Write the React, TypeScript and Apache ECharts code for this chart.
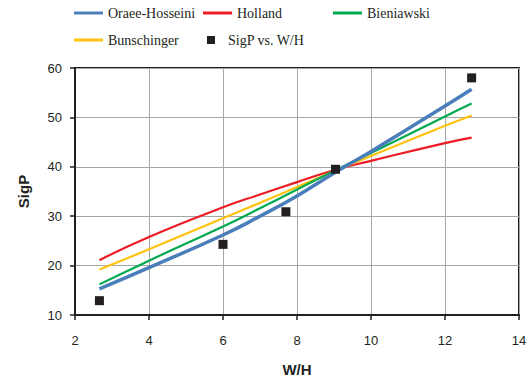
import React, { useEffect, useRef } from "react";
import * as echarts from "echarts";

const lineX = [2.66, 4, 6, 7, 8, 9.04, 10, 12, 12.72];
const oraeeHosseini = [15.3, 19.6, 26.2, 30.0, 34.1, 38.9, 43.1, 52.3, 55.7];
const holland = [21.1, 25.8, 31.8, 34.4, 36.9, 39.4, 41.2, 44.8, 45.9];
const bieniawski = [16.2, 21.0, 27.9, 31.6, 35.4, 39.3, 42.8, 50.2, 52.8];
const bunschinger = [19.2, 23.3, 29.6, 32.7, 35.9, 39.2, 42.2, 48.3, 50.4];
const pointsX = [2.66, 6.0, 7.7, 9.04, 12.72];
const pointsY = [12.9, 24.3, 30.9, 39.5, 58.0];

const COLORS = {
  blue: "#4a7ebb",
  red: "#ed1c24",
  green: "#00a84f",
  yellow: "#ffc20e",
  black: "#231f20",
};

const pair = (xs: number[], ys: number[]) => xs.map((x, i) => [x, ys[i]]);

export default function App() {
  const ref = useRef<HTMLDivElement>(null);
  useEffect(() => {
    document.body.style.margin = "0";
    const chart = echarts.init(ref.current!, undefined, { renderer: "svg" });
    const legendText = {
      fontFamily: "'Liberation Serif', 'Times New Roman', serif",
      fontSize: 14,
      color: COLORS.black,
    };
    const lineLegend = (name: string, left: number, top: number) => ({
      data: [name],
      left,
      top,
      icon: "rect",
      itemWidth: 29,
      itemHeight: 3,
      itemGap: 4,
      padding: 0,
      textStyle: legendText,
    });
    chart.setOption({
      animation: false,
      textStyle: { fontFamily: "'Liberation Sans', Arial, sans-serif" },
      legend: [
        lineLegend("Oraee-Hosseini", 74, 6),
        lineLegend("Holland", 203, 6),
        lineLegend("Bieniawski", 333, 6),
        lineLegend("Bunschinger", 74, 33),
        {
          data: ["SigP vs. W/H"],
          left: 207,
          top: 33,
          icon: "path://M0,0H10V10H0Z",
          symbolKeepAspect: true,
          itemWidth: 24,
          itemHeight: 8,
          padding: 0,
          itemStyle: { opacity: 1 },
          textStyle: legendText,
        },
      ],
      grid: {
        left: 75,
        top: 68,
        right: 13,
        bottom: 70,
        show: true,
        borderColor: COLORS.black,
        borderWidth: 2,
      },
      xAxis: {
        type: "value",
        min: 2,
        max: 14,
        interval: 2,
        name: "W/H",
        nameLocation: "middle",
        nameGap: 47,
        nameTextStyle: {
          fontFamily: "'Liberation Sans', Arial, sans-serif",
          fontSize: 15,
          fontWeight: "bold",
          color: COLORS.black,
        },
        axisLine: { show: true, lineStyle: { color: COLORS.black, width: 2 } },
        axisTick: { show: true, length: 5, lineStyle: { color: COLORS.black, width: 1.5 } },
        axisLabel: {
          margin: 19,
          fontFamily: "'Liberation Sans', Arial, sans-serif",
          fontSize: 13,
          color: COLORS.black,
        },
        splitLine: { show: true, lineStyle: { color: "#a6a6a6", width: 1 } },
      },
      yAxis: {
        type: "value",
        min: 10,
        max: 60,
        interval: 10,
        name: "SigP",
        nameLocation: "middle",
        nameGap: 44,
        nameRotate: 90,
        nameTextStyle: {
          fontFamily: "'Liberation Sans', Arial, sans-serif",
          fontSize: 15,
          fontWeight: "bold",
          color: COLORS.black,
        },
        axisLine: { show: true, lineStyle: { color: COLORS.black, width: 2 } },
        axisTick: { show: true, length: 5, lineStyle: { color: COLORS.black, width: 1.5 } },
        axisLabel: {
          margin: 13,
          fontFamily: "'Liberation Sans', Arial, sans-serif",
          fontSize: 13,
          color: COLORS.black,
        },
        splitLine: { show: true, lineStyle: { color: "#a6a6a6", width: 1 } },
      },
      series: [
        {
          name: "Holland",
          type: "line",
          smooth: true,
          symbol: "none",
          data: pair(lineX, holland),
          itemStyle: { color: COLORS.red },
          lineStyle: { color: COLORS.red, width: 2.2 },
          z: 2,
        },
        {
          name: "Bunschinger",
          type: "line",
          smooth: true,
          symbol: "none",
          data: pair(lineX, bunschinger),
          itemStyle: { color: COLORS.yellow },
          lineStyle: { color: COLORS.yellow, width: 2.2 },
          z: 2,
        },
        {
          name: "Bieniawski",
          type: "line",
          smooth: true,
          symbol: "none",
          data: pair(lineX, bieniawski),
          itemStyle: { color: COLORS.green },
          lineStyle: { color: COLORS.green, width: 2.2 },
          z: 3,
        },
        {
          name: "Oraee-Hosseini",
          type: "line",
          smooth: true,
          symbol: "none",
          data: pair(lineX, oraeeHosseini),
          itemStyle: { color: COLORS.blue },
          lineStyle: { color: COLORS.blue, width: 3.5 },
          z: 4,
        },
        {
          name: "SigP vs. W/H",
          type: "scatter",
          symbol: "rect",
          symbolSize: 9,
          data: pair(pointsX, pointsY),
          itemStyle: { color: COLORS.black, opacity: 1 },
          z: 5,
        },
      ],
    });
    return () => chart.dispose();
  }, []);
  return <div ref={ref} style={{ width: 532, height: 385 }} />;
}
